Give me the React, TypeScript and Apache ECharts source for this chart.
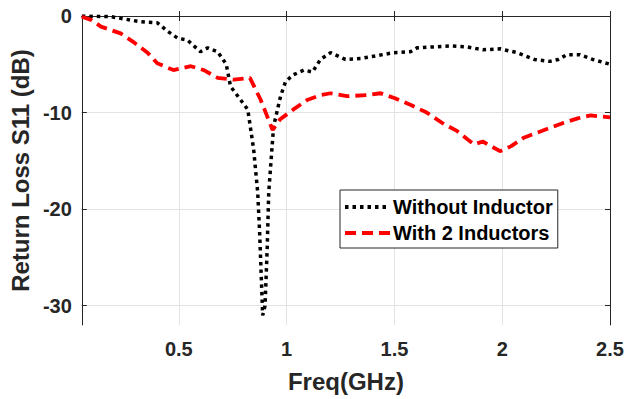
import React, { useEffect, useRef } from "react";
import * as echarts from "echarts";

const freqWithout = [0.05, 0.185, 0.324, 0.40, 0.449, 0.495, 0.54, 0.60, 0.634, 0.68, 0.72, 0.74, 0.787, 0.82, 0.847, 0.866, 0.875, 0.889, 0.90, 0.91, 0.917, 0.935, 0.94, 0.972, 0.995, 1.03, 1.08, 1.12, 1.157, 1.204, 1.273, 1.343, 1.42, 1.496, 1.574, 1.605, 1.68, 1.76, 1.837, 1.91, 1.99, 2.07, 2.15, 2.22, 2.26, 2.30, 2.36, 2.42, 2.5];
const s11Without = [0, -0.07, -0.6, -0.7, -1.6, -2.3, -2.5, -3.7, -3.3, -3.7, -5.0, -7.3, -8.7, -9.7, -13.8, -18.3, -22.5, -31.0, -30.0, -24.0, -18.3, -12.8, -11.4, -8.3, -6.8, -6.1, -5.6, -5.8, -4.5, -3.8, -4.5, -4.4, -4.1, -3.8, -3.7, -3.3, -3.2, -3.1, -3.2, -3.5, -3.4, -3.8, -4.5, -4.7, -4.5, -4.0, -4.0, -4.5, -5.0];

const freqWith = [0.05, 0.093, 0.139, 0.23, 0.29, 0.355, 0.40, 0.475, 0.556, 0.616, 0.68, 0.755, 0.83, 0.88, 0.91, 0.935, 0.97, 1.03, 1.095, 1.157, 1.204, 1.28, 1.374, 1.435, 1.50, 1.574, 1.65, 1.73, 1.79, 1.84, 1.87, 1.91, 1.95, 1.99, 2.04, 2.10, 2.16, 2.22, 2.28, 2.35, 2.41, 2.5];
const s11With = [-0.07, -0.4, -1.1, -1.8, -2.7, -3.8, -4.9, -5.6, -5.2, -5.6, -6.4, -6.6, -6.4, -8.7, -10.4, -11.8, -10.7, -9.7, -8.7, -8.2, -8.0, -8.3, -8.2, -8.0, -8.5, -9.2, -10.0, -11.2, -11.9, -12.8, -13.3, -13.0, -13.5, -14.0, -13.5, -12.6, -12.1, -11.6, -11.1, -10.6, -10.3, -10.5];

const xTicks = [0.5, 1, 1.5, 2, 2.5];
const yTicks = [-30, -20, -10, 0];
const seriesNames = ["Without Inductor", "With 2 Inductors"];

const FONT = "Liberation Sans, Arial, sans-serif";
const INK = "#262626";

export default function App() {
  const ref = useRef<HTMLDivElement>(null);
  useEffect(() => {
    const chart = echarts.init(ref.current!, undefined, { renderer: "svg" });
    const pair = (xs: number[], ys: number[]) => xs.map((x, i) => [x, ys[i]]);
    const axisLine = { show: true, lineStyle: { color: INK, width: 1 } };
    const tickStyle = { show: true, inside: true, length: 5, lineStyle: { color: INK } };
    chart.setOption({
      animation: false,
      backgroundColor: "#ffffff",
      grid: { left: 80, top: 16, right: 19, bottom: 74, containLabel: false },
      xAxis: [
        {
          type: "value", min: 0.05, max: 2.5, position: "bottom",
          axisLine,
          axisTick: { ...tickStyle, customValues: xTicks },
          axisLabel: { customValues: xTicks, color: INK, fontSize: 20, fontWeight: "bold", fontFamily: FONT, margin: 14, formatter: (v: number) => String(v) },
          splitLine: { show: true, lineStyle: { color: "#e3e3e3", width: 1 } },
          name: "Freq(GHz)", nameLocation: "middle", nameGap: 44,
          nameTextStyle: { color: INK, fontSize: 24, fontWeight: "bold", fontFamily: FONT },
        },
        {
          type: "value", min: 0.05, max: 2.5, position: "top",
          axisLine,
          axisTick: { ...tickStyle, customValues: xTicks },
          axisLabel: { show: false },
          splitLine: { show: false },
        },
      ],
      yAxis: [
        {
          type: "value", min: -32, max: 0, position: "left",
          axisLine,
          axisTick: { ...tickStyle, customValues: yTicks },
          axisLabel: { customValues: yTicks, color: INK, fontSize: 20, fontWeight: "bold", fontFamily: FONT, margin: 10 },
          splitLine: { show: true, lineStyle: { color: "#e3e3e3", width: 1 } },
          name: "Return Loss S11 (dB)", nameLocation: "middle", nameGap: 46,
          nameTextStyle: { color: INK, fontSize: 24, fontWeight: "bold", fontFamily: FONT },
        },
        {
          type: "value", min: -32, max: 0, position: "right",
          axisLine,
          axisTick: { ...tickStyle, customValues: yTicks },
          axisLabel: { show: false },
          splitLine: { show: false },
        },
      ],
      legend: {
        orient: "vertical",
        left: 340, top: 190,
        borderColor: INK, borderWidth: 1, borderRadius: 0,
        padding: [7, 5, 5, 3],
        itemGap: 6, itemWidth: 45, itemHeight: 20,
        backgroundColor: "#ffffff",
        itemStyle: { opacity: 0 },
        lineStyle: { width: 4 },
        textStyle: { color: "#000", fontSize: 20, fontWeight: "bold", fontFamily: FONT, padding: [0, 0, 0, -2] },
        data: seriesNames,
      },
      series: [
        {
          name: seriesNames[0], type: "line", xAxisIndex: 0, yAxisIndex: 0,
          data: pair(freqWithout, s11Without),
          showSymbol: false, symbol: "none",
          lineStyle: { color: "#000000", width: 3.5, type: [3.5, 4] },
          itemStyle: { color: "#000000" },
        },
        {
          name: seriesNames[1], type: "line", xAxisIndex: 0, yAxisIndex: 0,
          data: pair(freqWith, s11With),
          showSymbol: false, symbol: "none",
          lineStyle: { color: "#ff0000", width: 3.8, type: [11, 6] },
          itemStyle: { color: "#ff0000" },
        },
      ],
    });
    return () => chart.dispose();
  }, []);
  return <div ref={ref} style={{ width: 629, height: 399, position: "absolute", left: 0, top: 0 }} />;
}
